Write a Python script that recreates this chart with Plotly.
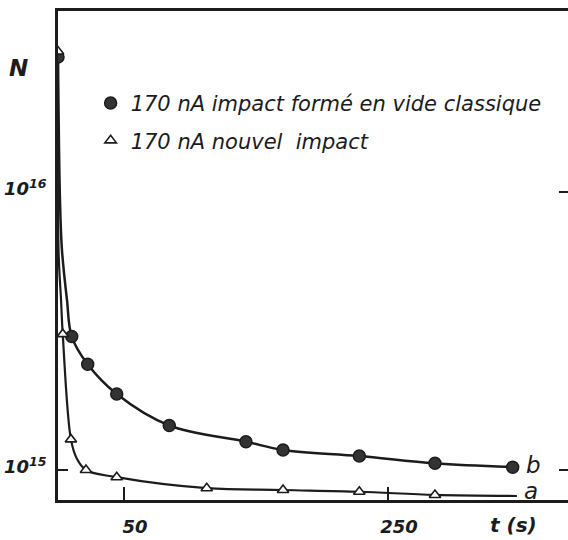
import plotly.graph_objects as go

# ---- data ----
# series b : 170 nA impact formé en vide classique (filled circles)
t_b = [0, 10.4, 22.5, 44.5, 84.3, 142.4, 170.5, 228.3, 285.6, 344.5]
n_b = [3.06e16, 3.02e15, 2.40e15, 1.875e15, 1.445e15, 1.264e15, 1.18e15, 1.123e15, 1.057e15, 1.023e15]
# series a : 170 nA nouvel impact (open triangles)
t_a = [0, 3.6, 9.8, 21.2, 44.5, 112.7, 170.5, 228.3, 285.6]
n_a = [3.2e16, 3.08e15, 1.288e15, 1.0e15, 9.42e14, 8.6e14, 8.47e14, 8.35e14, 8.13e14]

# hand-drawn fitted curves
curve_b_t = [0, 1.5, 3.0, 6.8, 10.4, 22.5, 44.5, 84.3, 142.4, 170.5, 228.3, 285.6, 344.5]
curve_b_n = [3.06e16, 9.35e15, 6.18e15, 4.09e15, 3.02e15, 2.40e15, 1.875e15, 1.445e15,
             1.264e15, 1.18e15, 1.123e15, 1.057e15, 1.023e15]
curve_a_t = [0, 0.4, 2.3, 3.6, 9.8, 14.2, 21.2, 44.5, 112.7, 170.5, 228.3, 285.6, 347.7]
curve_a_n = [3.06e16, 6.18e15, 4.09e15, 3.08e15, 1.288e15, 1.10e15, 1.0e15, 9.42e14,
             8.6e14, 8.47e14, 8.35e14, 8.13e14, 8.06e14]

series_names = ["170 nA impact formé en vide classique", "170 nA nouvel\u00a0 impact"]
curve_labels = ["b", "a"]

x_tickvals = [50, 250]
x_ticktext = ["50", "250"]
y_tickvals = [1e15, 1e16]
y_ticktext = ["10<sup>15</sup>", "10<sup>16</sup>"]

INK = "#1c1c1c"
FONT = "DejaVu Sans"

fig = go.Figure()

fig.add_trace(go.Scatter(x=curve_b_t, y=curve_b_n, mode="lines", line=dict(color=INK, width=2.5, shape="spline"),
                         showlegend=False, hoverinfo="skip"))
fig.add_trace(go.Scatter(x=curve_a_t, y=curve_a_n, mode="lines", line=dict(color=INK, width=2.2, shape="spline"),
                         showlegend=False, hoverinfo="skip"))
fig.add_trace(go.Scatter(x=t_b, y=n_b, mode="markers", name=series_names[0], legendgroup="b",
                         marker=dict(symbol="circle", size=12, color="#333333", line=dict(color=INK, width=1.5))))
fig.add_trace(go.Scatter(x=t_a, y=n_a, mode="markers", name=series_names[1], legendgroup="a",
                         marker=dict(symbol="triangle-up", size=10, color="white", line=dict(color=INK, width=1.6))))
# invisible helpers so the extra tick axes are drawn
fig.add_trace(go.Scatter(x=[None], y=[None], yaxis="y2", showlegend=False, hoverinfo="skip"))
fig.add_trace(go.Scatter(x=[None], y=[None], yaxis="y3", showlegend=False, hoverinfo="skip"))

yr = [14.892, 16.651]

fig.update_layout(
    width=568, height=540,
    margin=dict(l=58, r=0, t=11, b=40),
    paper_bgcolor="white", plot_bgcolor="white",
    font=dict(family=FONT, color=INK),
    showlegend=True,
    legend=dict(x=0.064, y=0.853, xanchor="left", yanchor="top", bgcolor="rgba(0,0,0,0)",
                font=dict(family=FONT, size=21, style="italic", color=INK),
                traceorder="grouped", tracegroupgap=7, itemwidth=30),
    xaxis=dict(range=[0, 386.4], showgrid=False, zeroline=False, showline=True, linecolor=INK, linewidth=2.5,
               mirror=True, ticks="inside", ticklen=13, tickwidth=2, tickcolor=INK,
               tickvals=x_tickvals, ticktext=x_ticktext, ticklabelshift=11, ticklabelstandoff=9,
               tickfont=dict(family=FONT, size=18, weight="bold", style="italic", color=INK)),
    yaxis=dict(type="log", range=yr, showgrid=False, zeroline=False, showline=True, linecolor=INK, linewidth=2.5,
               mirror=False, ticks="", tickvals=y_tickvals, ticktext=y_ticktext, ticklabelstandoff=5,
               ticklabelshift=-3,
               tickfont=dict(family=FONT, size=18, weight="bold", style="italic", color=INK)),
    yaxis2=dict(type="log", range=yr, overlaying="y", side="right", showgrid=False, zeroline=False,
                showline=False, ticks="inside", ticklen=9, tickwidth=2, tickcolor=INK,
                tickvals=y_tickvals, showticklabels=False),
    yaxis3=dict(type="log", range=yr, overlaying="y", side="left", showgrid=False, zeroline=False,
                showline=False, ticks="inside", ticklen=10, tickwidth=2, tickcolor=INK,
                tickvals=[y_tickvals[0]], showticklabels=False),
)

fig.add_annotation(text="N", xref="paper", yref="paper", x=-0.078, y=0.8834, showarrow=False,
                   xanchor="center", yanchor="middle",
                   font=dict(family=FONT, size=23, weight="bold", style="italic", color=INK))
fig.add_annotation(text="t (s)", xref="paper", yref="paper", x=0.894, y=-0.0511, showarrow=False,
                   xanchor="center", yanchor="middle",
                   font=dict(family=FONT, size=20, weight="bold", style="italic", color=INK))
fig.add_annotation(text=curve_labels[0], x=360, y=15.018, xref="x", yref="y", showarrow=False,
                   xanchor="center", yanchor="middle",
                   font=dict(family=FONT, size=23, style="italic", color=INK))
fig.add_annotation(text=curve_labels[1], x=358, y=14.924, xref="x", yref="y", showarrow=False,
                   xanchor="center", yanchor="middle",
                   font=dict(family=FONT, size=23, style="italic", color=INK))

fig.write_html("out.html", config={"displayModeBar": False},
               post_script="document.body.style.margin='0';")
